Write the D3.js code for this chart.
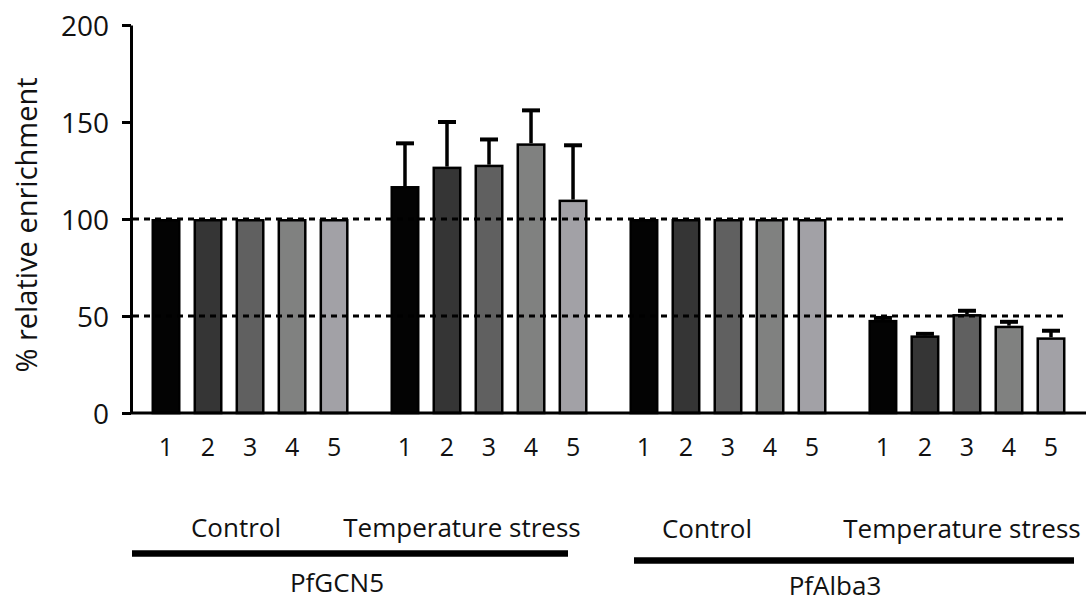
<!DOCTYPE html>
<html>
<head>
<meta charset="utf-8">
<script src="https://cdn.jsdelivr.net/npm/d3@7"></script>
<style>
  html, body { margin: 0; padding: 0; background: #fff; }
  svg { display: block; font-family: "Open Sans", "Noto Sans", sans-serif; }
</style>
</head>
<body>
<svg id="chart" width="1086" height="603"></svg>
<script>
// Samples shown within each condition block
const samples = ["1", "2", "3", "4", "5"];
const conditions = ["Control", "Temperature stress"];
const proteins = ["PfGCN5", "PfAlba3"];

// % relative enrichment (mean) and upper error (SD)
const gcn5Control = [100, 100, 100, 100, 100];
const gcn5Stress = [117, 127, 128, 139, 110];
const gcn5StressErr = [22, 23, 13, 17, 28];
const alba3Control = [100, 100, 100, 100, 100];
const alba3Stress = [48, 40, 51, 45, 39];
const alba3StressErr = [1, 0.8, 1.7, 2, 3.4];

const yTicks = [0, 50, 100, 150, 200];
const refLines = [100, 50];
const sampleColors = ["#030303", "#353535", "#606060", "#808180", "#a2a1a6"];

// Four blocks: protein x condition
const blocks = [
  { key: "gcn5-ctrl", values: gcn5Control, errs: null },
  { key: "gcn5-stress", values: gcn5Stress, errs: gcn5StressErr },
  { key: "alba3-ctrl", values: alba3Control, errs: null },
  { key: "alba3-stress", values: alba3Stress, errs: alba3StressErr }
];

const svg = d3.select("#chart");
const axisX = 131;
const baseY = 413;

const y = d3.scaleLinear().domain([0, 200]).range([baseY, 25]);

const xBlock = d3.scaleBand()
  .domain(blocks.map(b => b.key))
  .range([145, 1072])
  .paddingInner(0.121)
  .paddingOuter(0);

const xSample = d3.scaleBand()
  .domain(samples)
  .range([0, xBlock.bandwidth()])
  .paddingInner(0.31)
  .paddingOuter(0.155);

// Y axis
const yAxis = d3.axisLeft(y).tickValues(yTicks).tickSize(9).tickSizeOuter(0).tickPadding(13);
const gy = svg.append("g").attr("transform", `translate(${axisX},0)`).call(yAxis);
gy.select(".domain").attr("stroke", "#000").attr("stroke-width", 3);
gy.selectAll(".tick line").attr("stroke", "#000").attr("stroke-width", 3);
gy.selectAll(".tick text")
  .attr("font-size", 28).attr("fill", "#111")
  .attr("font-family", "'Open Sans', sans-serif")
  .attr("dy", "0.36em");

svg.append("text")
  .attr("transform", `translate(37,${225}) rotate(-90)`)
  .attr("text-anchor", "middle")
  .attr("font-size", 29)
  .attr("fill", "#111")
  .text("% relative enrichment");

// Bars
blocks.forEach(b => {
  const g = svg.append("g").attr("transform", `translate(${xBlock(b.key)},0)`);
  // error bars (upper only), drawn behind the bar
  if (b.errs) {
    g.selectAll("line.err")
      .data(samples)
      .join("line")
      .attr("x1", (s) => xSample(s) + xSample.bandwidth() / 2)
      .attr("x2", (s) => xSample(s) + xSample.bandwidth() / 2)
      .attr("y1", (s, i) => y(b.values[i]))
      .attr("y2", (s, i) => y(b.values[i] + b.errs[i]))
      .attr("stroke", "#000").attr("stroke-width", 3.5);
    g.selectAll("line.cap")
      .data(samples)
      .join("line")
      .attr("class", "cap")
      .attr("x1", (s) => xSample(s) + xSample.bandwidth() / 2 - 9)
      .attr("x2", (s) => xSample(s) + xSample.bandwidth() / 2 + 9)
      .attr("y1", (s, i) => y(b.values[i] + b.errs[i]))
      .attr("y2", (s, i) => y(b.values[i] + b.errs[i]))
      .attr("stroke", "#000").attr("stroke-width", 4);
  }
  g.selectAll("rect")
    .data(samples)
    .join("rect")
    .attr("x", s => xSample(s) + 1.25)
    .attr("width", xSample.bandwidth() - 2.5)
    .attr("y", (s, i) => y(b.values[i]) + 1.25)
    .attr("height", (s, i) => baseY - y(b.values[i]) - 1.25)
    .attr("fill", (s, i) => sampleColors[i])
    .attr("stroke", "#000")
    .attr("stroke-width", 2.5);

  // sample number labels
  g.selectAll("text")
    .data(samples)
    .join("text")
    .attr("x", s => xSample(s) + xSample.bandwidth() / 2)
    .attr("y", 456)
    .attr("text-anchor", "middle")
    .attr("font-size", 25)
    .attr("fill", "#111")
    .text(s => s);
});

// Dashed reference lines
svg.selectAll("line.ref")
  .data(refLines)
  .join("line")
  .attr("class", "ref")
  .attr("x1", axisX + 2)
  .attr("x2", 1066)
  .attr("y1", d => y(d))
  .attr("y2", d => y(d))
  .attr("stroke", "#000")
  .attr("stroke-width", 3)
  .attr("stroke-dasharray", "6,5");

// Baseline
svg.append("line")
  .attr("x1", axisX).attr("x2", 1086)
  .attr("y1", baseY).attr("y2", baseY)
  .attr("stroke", "#000").attr("stroke-width", 3);

// Condition labels
const condLabels = [
  { text: conditions[0], x: 236, y: 537 },
  { text: conditions[1], x: 462, y: 537 },
  { text: conditions[0], x: 707, y: 538 },
  { text: conditions[1], x: 962, y: 538 }
];
svg.selectAll("text.cond")
  .data(condLabels)
  .join("text")
  .attr("class", "cond")
  .attr("x", d => d.x)
  .attr("y", d => d.y)
  .attr("text-anchor", "middle")
  .attr("font-size", 26)
  .attr("fill", "#111")
  .text(d => d.text);

// Protein brackets
const proteinBars = [
  { name: proteins[0], x1: 132, x2: 568, y: 553.5, tx: 337, ty: 592 },
  { name: proteins[1], x1: 634, x2: 1074, y: 560.5, tx: 835, ty: 595 }
];
svg.selectAll("line.prot")
  .data(proteinBars)
  .join("line")
  .attr("class", "prot")
  .attr("x1", d => d.x1).attr("x2", d => d.x2)
  .attr("y1", d => d.y).attr("y2", d => d.y)
  .attr("stroke", "#000").attr("stroke-width", 6.5);
svg.selectAll("text.prot")
  .data(proteinBars)
  .join("text")
  .attr("class", "prot")
  .attr("x", d => d.tx)
  .attr("y", d => d.ty)
  .attr("text-anchor", "middle")
  .attr("font-size", 26)
  .attr("fill", "#111")
  .text(d => d.name);
</script>
</body>
</html>
